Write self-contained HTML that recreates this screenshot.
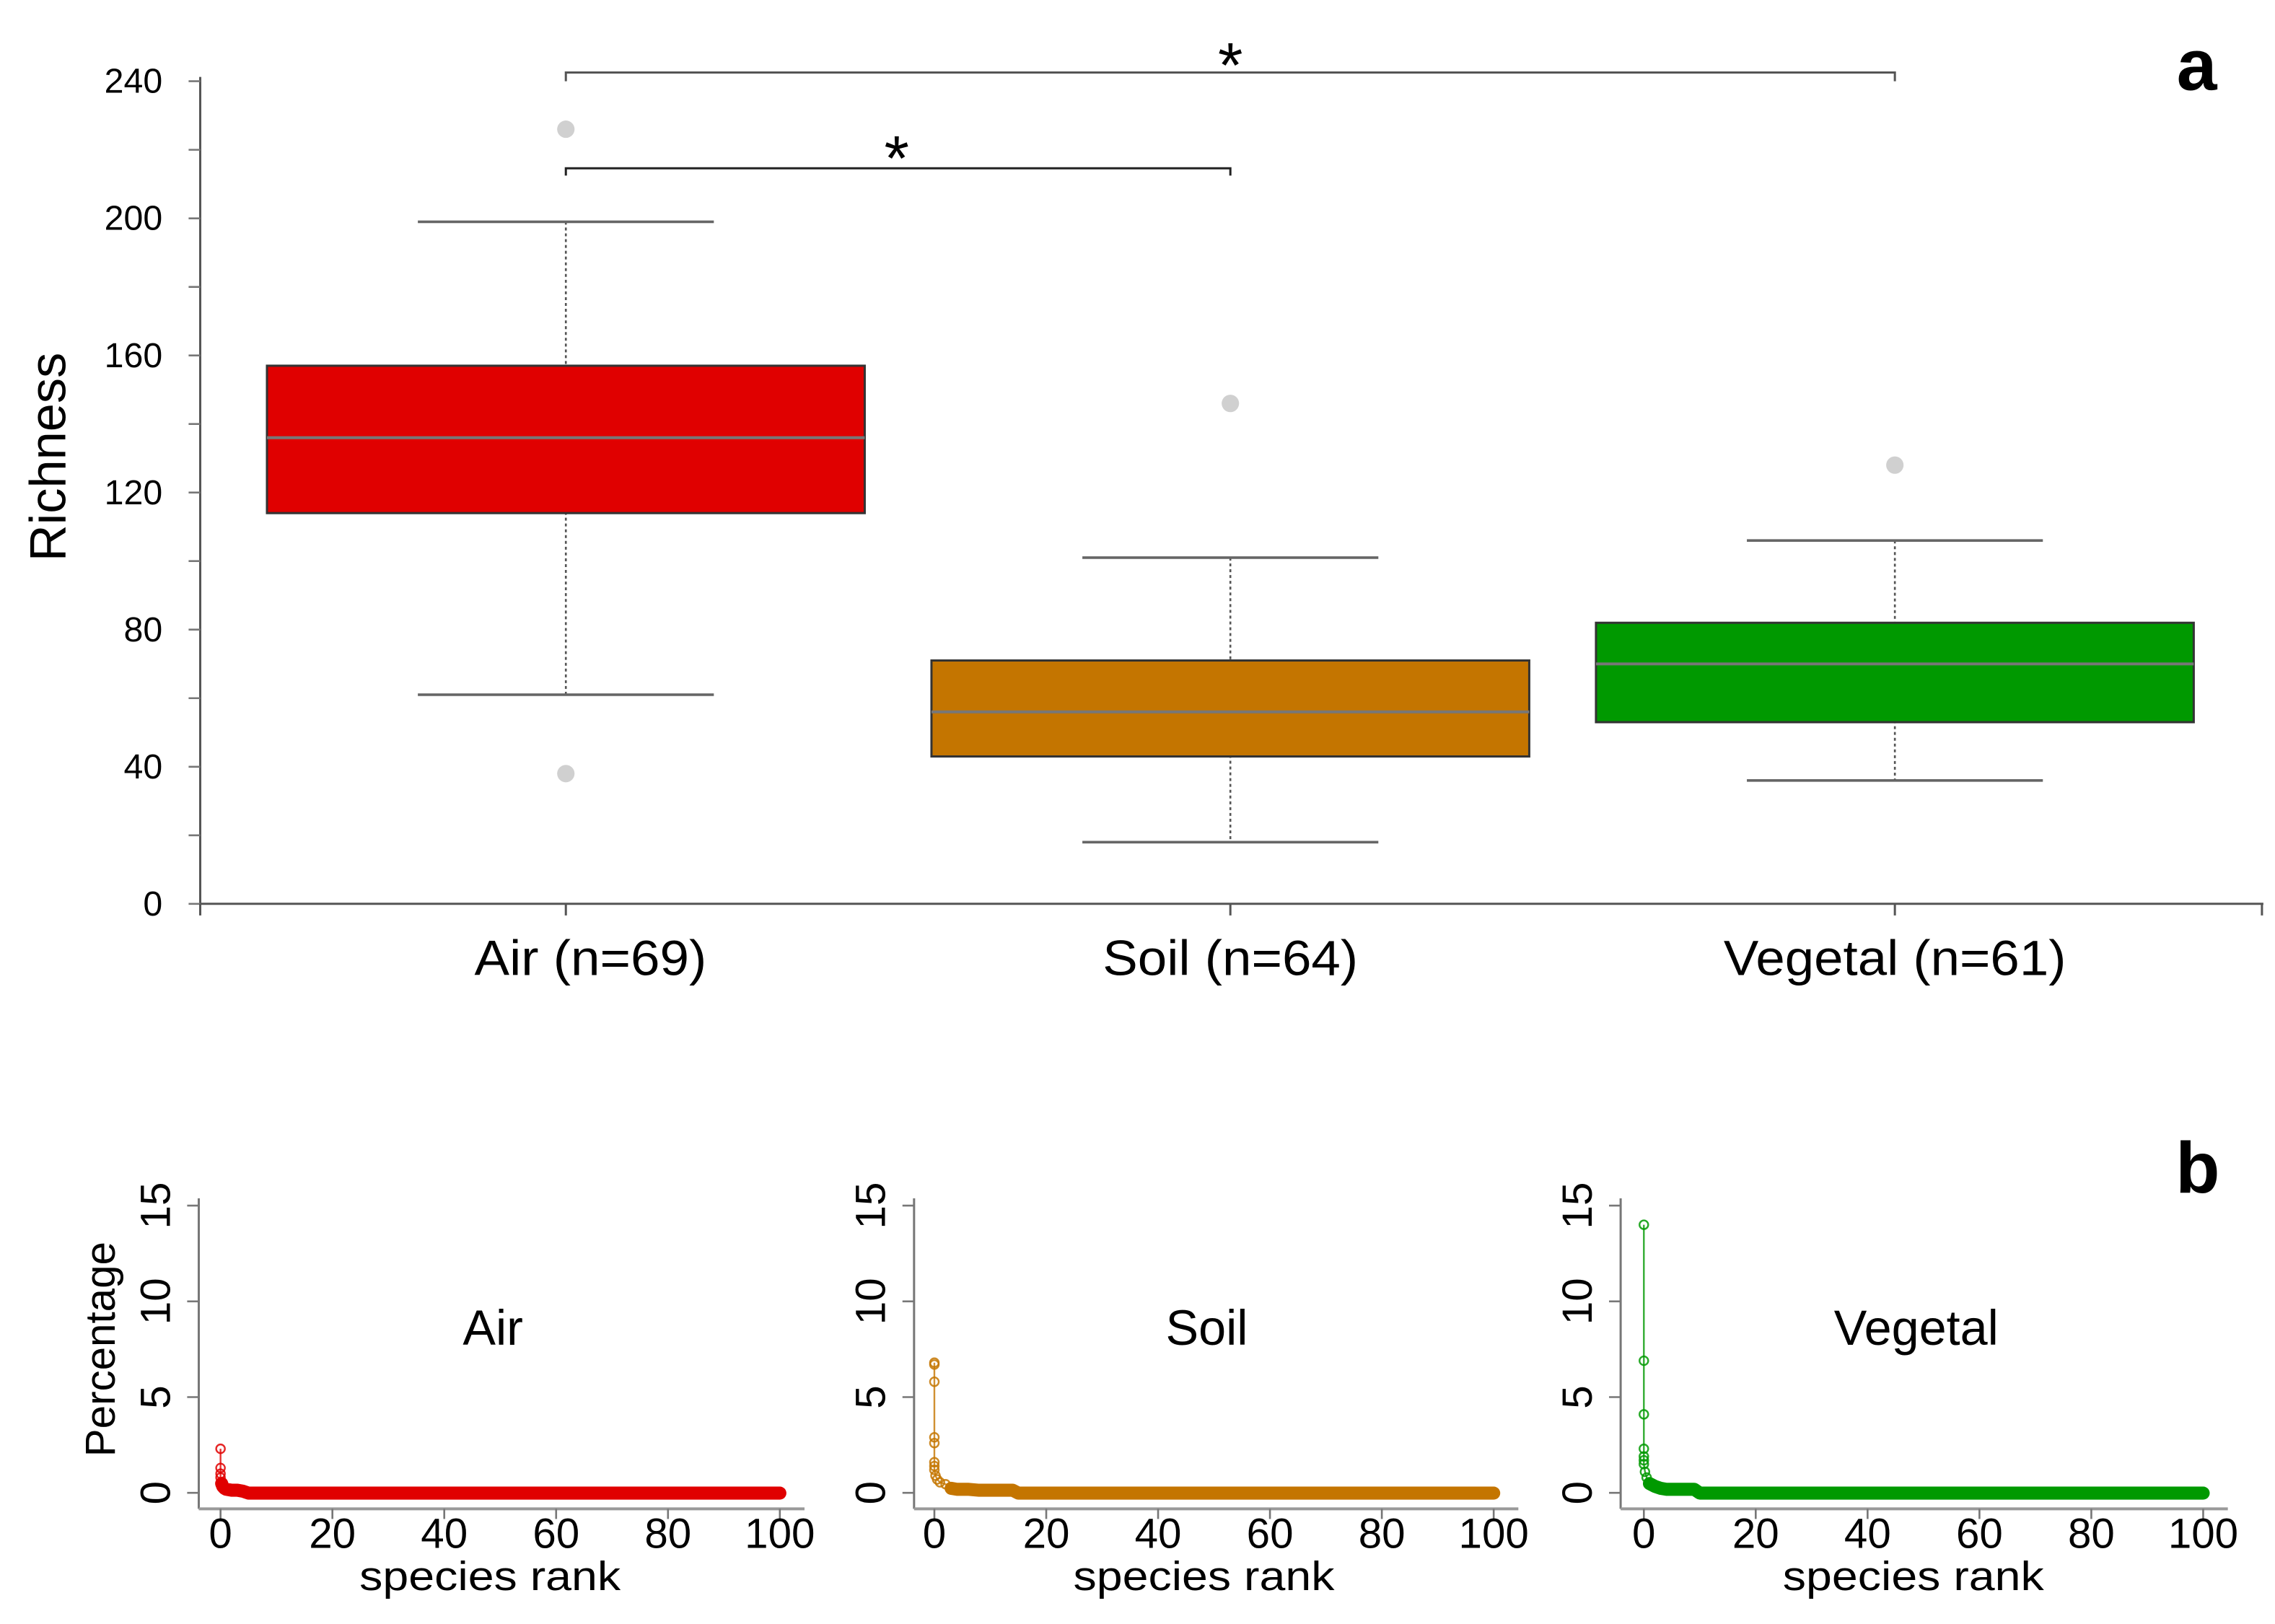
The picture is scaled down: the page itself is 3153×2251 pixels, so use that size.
<!DOCTYPE html>
<html><head><meta charset="utf-8"><style>
html,body{margin:0;padding:0;background:#fff;}
svg{display:block;font-family:"Liberation Sans",Arial,sans-serif;}
</style></head><body>
<svg id="fig" width="3153" height="2251" viewBox="0 0 1568 1119.4" preserveAspectRatio="none" xmlns="http://www.w3.org/2000/svg"></svg>
<script>
// ---- panel a data ----
const groups = ["Air (n=69)", "Soil (n=64)", "Vegetal (n=61)"];
const boxColors = ["#e00000", "#c47500", "#009900"];
const whiskerLow = [61, 18, 36];
const q1 = [114, 43, 53];
const medians = [136, 56, 70];
const q3 = [157, 71, 82];
const whiskerHigh = [199, 101, 106];
const outliers = [[226, 38], [146], [128]];
const yTicks = [0, 40, 80, 120, 160, 200, 240];

// ---- panel b data ----
const panelNames = ["Air", "Soil", "Vegetal"];
const lineColors = ["#e00000", "#c47500", "#009900"];
const rankTicks = [0, 20, 40, 60, 80, 100];
const pctTicks = [0, 5, 10, 15];
const airHeadRank = [0, 0, 0, 0, 0.2, 0.4, 0.7, 1, 2, 3, 4];
const airHeadVal = [2.3, 1.3, 1.0, 0.8, 0.6, 0.45, 0.35, 0.3, 0.25, 0.25, 0.2];
const soilHeadRank = [0, 0, 0, 0, 0, 0, 0, 0, 0.2, 0.5, 1, 2, 3, 4, 6, 8, 10, 12, 14];
const soilHeadVal = [6.8, 6.7, 5.8, 2.9, 2.6, 1.6, 1.4, 1.2, 0.9, 0.7, 0.55, 0.45, 0.35, 0.3, 0.3, 0.25, 0.25, 0.25, 0.25];
const vegHeadRank = [0, 0, 0, 0, 0, 0, 0, 0.2, 0.5, 1, 2, 3, 4, 6, 8, 9];
const vegHeadVal = [14.0, 6.9, 4.1, 2.3, 1.9, 1.7, 1.5, 1.1, 0.8, 0.6, 0.45, 0.35, 0.3, 0.3, 0.3, 0.3];
const tailStart = [5, 15, 10];
const tailVal = [0.1, 0.1, 0.1];

const NS = "http://www.w3.org/2000/svg";
const svg = document.getElementById("fig");
function mk(tag, attrs, parent) {
  const e = document.createElementNS(NS, tag);
  for (const k in attrs) e.setAttribute(k, attrs[k]);
  (parent || svg).appendChild(e);
  return e;
}

// ===== Panel a =====
const aG = mk("g", {});


const yA = v => 623 - v * (567 / 240);
const xA = i => 390 + i * 458;
const axA = mk("line", {x1: 138, y1: 53, x2: 138, y2: 630, stroke: "#555", "stroke-width": 1.5}, aG);


for (let v = 0; v <= 240; v += 20) {
  mk("line", {x1: 130, x2: 138, y1: yA(v), y2: yA(v), stroke: "#777", "stroke-width": 1.3}, aG);
}
yTicks.forEach(v => {
  const t = mk("text", {x: 112, y: yA(v) + 8, "text-anchor": "end", "font-size": 24, fill: "#000"}, aG);
  t.textContent = v;
  
  
});
const xAx = mk("line", {x1: 138, y1: 623, x2: 1560, y2: 623, stroke: "#555", "stroke-width": 1.5}, aG);


mk("line", {x1: 138, x2: 138, y1: 623, y2: 631, stroke: "#555", "stroke-width": 1.5}, aG);
mk("line", {x1: 1559, x2: 1559, y1: 623, y2: 631, stroke: "#555", "stroke-width": 1.5}, aG);
const yt = mk("text", {x: 0, y: 0, "font-size": 35, "text-anchor": "middle", transform: "translate(45,315) rotate(-90)"}, aG);
yt.textContent = "Richness";



groups.forEach((g, i) => {
  const cx = xA(i);
  mk("line", {x1: cx, x2: cx, y1: 623, y2: 631, stroke: "#555", "stroke-width": 1.5}, aG);
  const lab = mk("text", {x: cx + (i === 0 ? 17 : 0), y: 672, "text-anchor": "middle", "font-size": 34, textLength: i === 0 ? 160 : (i === 1 ? 176 : 236), lengthAdjust: "spacingAndGlyphs"}, aG);
  lab.textContent = g;
  
  
  const bg = mk("g", {}, aG);
  
  
  mk("line", {x1: cx, x2: cx, y1: yA(whiskerHigh[i]), y2: yA(whiskerLow[i]), stroke: "#555", "stroke-width": 1.3, "stroke-dasharray": "2,2"}, bg);
  mk("line", {x1: cx - 102, x2: cx + 102, y1: yA(whiskerHigh[i]), y2: yA(whiskerHigh[i]), stroke: "#666", "stroke-width": 1.8}, bg);
  mk("line", {x1: cx - 102, x2: cx + 102, y1: yA(whiskerLow[i]), y2: yA(whiskerLow[i]), stroke: "#666", "stroke-width": 1.8}, bg);
  mk("rect", {x: cx - 206, y: yA(q3[i]), width: 412, height: yA(q1[i]) - yA(q3[i]), fill: boxColors[i], stroke: "#333", "stroke-width": 1.5}, bg);
  mk("line", {x1: cx - 206, x2: cx + 206, y1: yA(medians[i]), y2: yA(medians[i]), stroke: "#777", "stroke-width": 2}, bg);
  outliers[i].forEach(o => {
    const c = mk("circle", {cx: cx, cy: yA(o), r: 6, fill: "#d0d0d0"}, bg);
    
    
  });
});
// significance brackets
const br1 = mk("path", {d: "M390,56 V50 H1306 V56", fill: "none", stroke: "#555", "stroke-width": 1.5}, aG);


const s1 = mk("text", {x: 848, y: 60, "text-anchor": "middle", "font-size": 44}, aG);
s1.textContent = "*";


const br2 = mk("path", {d: "M390,121 V116 H848 V121", fill: "none", stroke: "#222", "stroke-width": 1.5}, aG);


const s2 = mk("text", {x: 618, y: 124, "text-anchor": "middle", "font-size": 44}, aG);
s2.textContent = "*";


const la = mk("text", {x: 1528, y: 62, "text-anchor": "end", "font-size": 50, "font-weight": "bold"}, aG);
la.textContent = "a";



// ===== Panel b =====
const lb = mk("text", {x: 1530, y: 822, "text-anchor": "end", "font-size": 50, "font-weight": "bold"});
lb.textContent = "b";


const pt = mk("text", {x: 0, y: 0, "font-size": 29, "text-anchor": "middle", transform: "translate(79,930) rotate(-90)"});
pt.textContent = "Percentage";



const axisX = [137, 630, 1117];
const rank0X = [152, 644, 1133];
const heads = [[airHeadRank, airHeadVal], [soilHeadRank, soilHeadVal], [vegHeadRank, vegHeadVal]];
panelNames.forEach((name, p) => {
  const g = mk("g", {});
  
  
  const xr = r => rank0X[p] + r * 3.855;
  const yp = v => 1029 - v * (198 / 15);
  mk("line", {x1: axisX[p], x2: axisX[p], y1: 826, y2: 1040, stroke: "#777", "stroke-width": 1.5}, g);
  mk("line", {x1: axisX[p], x2: xr(100) + 17, y1: 1040, y2: 1040, stroke: "#999", "stroke-width": 2}, g);
  pctTicks.forEach(v => {
    mk("line", {x1: axisX[p] - 8, x2: axisX[p], y1: yp(v), y2: yp(v), stroke: "#777", "stroke-width": 1.3}, g);
    const t = mk("text", {x: 0, y: 0, "font-size": 29, "text-anchor": "middle", transform: `translate(${axisX[p] - 20},${yp(v)}) rotate(-90)`}, g);
    t.textContent = v;
    
    
  });
  rankTicks.forEach(r => {
    mk("line", {x1: xr(r), x2: xr(r), y1: 1040, y2: 1047, stroke: "#777", "stroke-width": 1.3}, g);
    const t = mk("text", {x: xr(r), y: 1067, "font-size": 29, "text-anchor": "middle"}, g);
    t.textContent = r;
    
    
  });
  const xl = mk("text", {x: xr(50) - 7, y: 1096, "font-size": 28, "text-anchor": "middle", textLength: 180, lengthAdjust: "spacingAndGlyphs"}, g);
  xl.textContent = "species rank";
  
  
  const tt = mk("text", {x: xr(50) - 5, y: 927, "font-size": 34, "text-anchor": "middle"}, g);
  tt.textContent = name;
  
  
  // points
  const nh = heads[p][0].length;
  const rs = heads[p][0].slice(), vs = heads[p][1].slice();
  for (let r = tailStart[p]; r <= 100; r += 0.5) { rs.push(r); vs.push(tailVal[p]); }
  let d = "";
  rs.forEach((r, k) => { d += (k ? "L" : "M") + xr(r) + "," + yp(vs[k]); });
  const ln = mk("path", {d: d, fill: "none", stroke: lineColors[p], "stroke-width": 1.2, opacity: 0.8}, g);
  
  
  // dense band of overlapping points
  let bd = "";
  rs.forEach((r, k) => { if (k >= nh - 7) bd += (bd ? "L" : "M") + xr(r) + "," + (yp(vs[k]) + 1.5); });
  const band = mk("path", {d: bd, fill: "none", stroke: lineColors[p], "stroke-width": 9, "stroke-linecap": "round", "stroke-linejoin": "round"}, g);
  
  
  rs.forEach((r, k) => {
    if (k >= nh - 7) return;
    const c = mk("circle", {cx: xr(r), cy: yp(vs[k]), r: 3, fill: "none", stroke: lineColors[p], "stroke-width": 1.2, opacity: 0.85}, g);
    
    
  });
});
</script>
</body></html>
